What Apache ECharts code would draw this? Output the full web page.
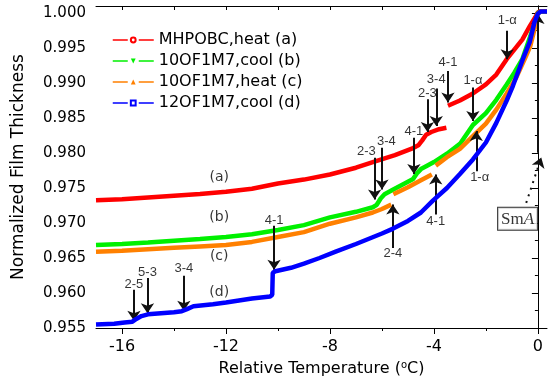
<!DOCTYPE html>
<html>
<head>
<meta charset="utf-8">
<script src="https://cdn.jsdelivr.net/npm/echarts@6/dist/echarts.min.js"></script>
<style>
  html, body { margin: 0; padding: 0; background: #fff; }
  #chart { width: 548px; height: 384px; }
</style>
</head>
<body>
<div id="chart"></div>
<script>
// --- data (null = gap in the curve) ---
const tempA = [-17, -16, -15, -14, -13, -12, -11, -10, -9, -8, -7, -6.35, -5.5, -4.8, -4.6, -4.45, -4.3, -4.1, -3.8, -3.52, -3.49, -3.46, -3.0, -2.5, -2.0, -1.6, -1.2, -0.9, -0.6, -0.3, -0.1, 0, 0.1, 0.35];
const thickA = [0.97325, 0.9734, 0.97365, 0.9739, 0.97415, 0.97445, 0.9749, 0.97565, 0.9762, 0.97693, 0.9779, 0.9787, 0.9797, 0.9807, 0.9811, 0.9818, 0.9826, 0.9830, 0.9834, 0.9836, null, 0.98675, 0.9875, 0.9885, 0.9898, 0.9912, 0.9934, 0.9948, 0.9962, 0.9982, 0.9994, 1.0001, 1.00025, 1.00025];

const tempB = [-17, -16, -15, -14, -13, -12, -11, -10, -9, -8, -7, -6.35, -6.2, -6.05, -5.9, -5.6, -5.0, -4.8, -4.65, -4.5, -4.3, -4.0, -3.5, -3.0, -2.5, -2.0, -1.6, -1.2, -0.9, -0.6, -0.3, -0.1, 0, 0.1, 0.35];
const thickB = [0.96685, 0.967, 0.9672, 0.96745, 0.9677, 0.968, 0.9684, 0.969, 0.9697, 0.9708, 0.9716, 0.97225, 0.9726, 0.9735, 0.9741, 0.9747, 0.9759, 0.9763, 0.9771, 0.9777, 0.9781, 0.9787, 0.9799, 0.9813, 0.9840, 0.9857, 0.9876, 0.9898, 0.9915, 0.9934, 0.9966, 0.9988, 1.0000, 1.0002, 1.0002];

const tempC = [-17, -16, -15, -14, -13, -12, -11, -10, -9, -8, -7, -6.35, -6.0, -5.64, -5.6, -5.56, -5.0, -4.5, -4.08, -4.0, -3.93, -3.5, -3.0, -2.5, -2.0, -1.6, -1.2, -0.83, -0.5, -0.3, -0.13, 0, 0.1, 0.35];
const thickC = [0.9659, 0.96605, 0.96625, 0.96645, 0.96665, 0.96685, 0.9673, 0.968, 0.9687, 0.9699, 0.9708, 0.9715, 0.972, 0.97263, null, 0.9741, 0.9751, 0.9761, 0.97693, null, 0.9782, 0.9794, 0.9806, 0.9824, 0.9842, 0.9862, 0.9885, 0.9908, 0.9935, 0.9952, 0.9977, 0.9999, 1.00025, 1.00025];

const tempD = [-17, -16.3, -15.9, -15.6, -15.45, -15.25, -15.0, -14.5, -14.0, -13.7, -13.5, -13.25, -12.5, -12.0, -11.0, -10.3, -10.22, -10.2, -10.1, -9.5, -9.0, -8.4, -7.78, -7.0, -6.0, -5.57, -5.0, -4.5, -4.04, -3.5, -3.0, -2.5, -2.0, -1.6, -1.2, -0.96, -0.58, -0.32, -0.13, 0, 0.1, 0.35];
const thickD = [0.9555, 0.9556, 0.9558, 0.9559, 0.9563, 0.9567, 0.95695, 0.9571, 0.95725, 0.9574, 0.9577, 0.9581, 0.9584, 0.95865, 0.9592, 0.9595, 0.95975, 0.9629, 0.9631, 0.9636, 0.9642, 0.965, 0.9659, 0.967, 0.9685, 0.9692, 0.9703, 0.9715, 0.9732, 0.9750, 0.9770, 0.97908, 0.9815, 0.9843, 0.9875, 0.9896, 0.9934, 0.9958, 0.9987, 0.9999, 1.0002, 1.0002];

const seriesNames = ['MHPOBC,heat (a)', '10OF1M7,cool (b)', '10OF1M7,heat (c)', '12OF1M7,cool (d)'];

// tick labels
const xTicks = [-16, -12, -8, -4, 0];
const xMinorTicks = [-14, -10, -6, -2];
const xTopTicks = [-16, -14, -12, -10, -8, -6, -4, -2, 0];
const yTicks = [0.955, 0.960, 0.965, 0.970, 0.975, 0.980, 0.985, 0.990, 0.995, 1.000];
const yMinorTicks = [0.9575, 0.9625, 0.9675, 0.9725, 0.9775, 0.9825, 0.9875, 0.9925, 0.9975];

// transition arrows: temperature, start and end thickness, text and text position
const arrowText  = ['2-5', '5-3', '3-4', '4-1', '2-3', '3-4', '4-1', '2-3', '3-4', '4-1', '1-α', '1-α', '2-4', '4-1', '1-α'];
const arrowTemp  = [-15.54, -15.02, -13.62, -10.15, -6.28, -6.0, -4.77, -4.25, -3.91, -3.46, -2.5, -1.18, -5.58, -3.93, -2.37];
const arrowStart = [0.96045, 0.96213, 0.96245, 0.96962, 0.97932, 0.98075, 0.98219, 0.98768, 0.98921, 0.99173, 0.98935, 0.99747, 0.96643, 0.9712, 0.9774];
const arrowEnd   = [0.95605, 0.95711, 0.95748, 0.96332, 0.97335, 0.97478, 0.9770, 0.98299, 0.98385, 0.98720, 0.98457, 0.99341, 0.97263, 0.97693, 0.98314];
const textTemp   = [-15.54, -15.02, -13.62, -10.15, -6.6, -5.83, -4.77, -4.25, -3.91, -3.46, -2.5, -1.18, -5.58, -3.93, -2.24];
const textThick  = [0.96127, 0.96298, 0.96346, 0.97034, 0.98027, 0.98166, 0.98309, 0.98849, 0.99054, 0.99293, 0.9904, 0.9990, 0.96571, 0.97029, 0.97646];

// curve tags
const tagText  = ['(a)', '(b)', '(c)', '(d)'];
const tagTemp  = [-12.26, -12.26, -12.26, -12.26];
const tagThick = [0.97646, 0.97087, 0.96522, 0.96006];

// SmA phase arrow and box
const smaArrow = [[0, 0.98005], [0, 0.99985]];
const smaDotted = [[-0.45, 0.97287], [0.13, 0.97936]];
const smaBox = [-0.78, 0.97062];

const pairs = (xs, ys) => xs.map((x, i) => [x, ys[i] === null ? '-' : ys[i]]);

const AXIS_FONT = "'DejaVu Sans', sans-serif";
const NOTE_FONT = "'Liberation Sans', Arial, sans-serif";
const colors = ['#ff0000', '#00f000', '#ff8000', '#0000ff'];
const symbols = ['emptyCircle', 'triangle', 'triangle', 'emptyRect'];
const rotations = [0, 180, 0, 0];
const curves = [pairs(tempA, thickA), pairs(tempB, thickB), pairs(tempC, thickC), pairs(tempD, thickD)];

const chart = echarts.init(document.getElementById('chart'), null, { renderer: 'canvas' });

const lineSeries = curves.map((data, i) => ({
    name: seriesNames[i],
    type: 'line',
    data: data,
    xAxisIndex: 0,
    yAxisIndex: 0,
    showSymbol: false,
    symbol: symbols[i],
    symbolRotate: rotations[i],
    connectNulls: false,
    color: colors[i],
    itemStyle: { color: colors[i], borderWidth: 1 },
    lineStyle: { width: 4.5, color: colors[i] },
    emphasis: { disabled: true },
    z: 2 + i
}));

const arrowLines = arrowTemp.map((t, i) => [{ coord: [t, arrowStart[i]] }, { coord: [t, arrowEnd[i]] }]);
arrowLines.push([{ coord: smaArrow[0] }, { coord: smaArrow[1] }]);
arrowLines.push([
    { coord: smaDotted[0], lineStyle: { type: [2, 5], width: 2 } },
    { coord: smaDotted[1] }
]);

const labelData = arrowText.map((s, i) => ({ name: s, value: [textTemp[i], textThick[i]] }))
    .concat(tagText.map((s, i) => ({
        name: s,
        value: [tagTemp[i], tagThick[i]],
        label: { fontFamily: AXIS_FONT, fontSize: 14 }
    })))
    .concat([{
        name: 'SmA',
        value: smaBox,
        label: {
            formatter: '{r|Sm}{i|A}',
            backgroundColor: '#fff',
            borderColor: '#000',
            borderWidth: 1,
            padding: [3, 3, 2, 3],
            rich: {
                r: { fontFamily: "'Liberation Serif', serif", fontSize: 17, color: '#000' },
                i: { fontFamily: "'Liberation Serif', serif", fontSize: 17, fontStyle: 'italic', color: '#000' }
            }
        }
    }]);

const noteSeries = {
    name: 'notes',
    type: 'scatter',
    xAxisIndex: 0,
    yAxisIndex: 0,
    symbolSize: 1,
    itemStyle: { color: 'rgba(0,0,0,0)' },
    silent: true,
    z: 10,
    label: {
        show: true,
        position: 'inside',
        formatter: '{b}',
        color: '#000',
        fontFamily: NOTE_FONT,
        fontSize: 13
    },
    data: labelData,
    markLine: {
        silent: true,
        symbol: ['none', 'arrow'],
        symbolSize: 10,
        precision: 6,
        label: { show: false },
        emphasis: { disabled: true },
        lineStyle: { color: '#111', width: 2, type: 'solid' },
        data: arrowLines
    }
};

const axisLine = { show: true, lineStyle: { color: '#000', width: 1 } };

chart.setOption({
    animation: false,
    backgroundColor: '#fff',
    grid: { left: 96, right: 1, top: 6, bottom: 56, containLabel: false },
    legend: {
        data: seriesNames,
        orient: 'vertical',
        left: 107,
        top: 27,
        itemWidth: 41,
        itemHeight: 6,
        itemGap: 5,
        lineStyle: { width: 1.5, type: [15, 11] },
        textStyle: { fontFamily: AXIS_FONT, fontSize: 16, color: '#000' },
        selectedMode: false
    },
    xAxis: [
        {
            type: 'value', min: -17, max: 0.35, position: 'bottom',
            name: 'Relative Temperature ({sup|o}C)',
            nameLocation: 'middle', nameGap: 32,
            nameTextStyle: {
                fontFamily: AXIS_FONT, fontSize: 16, color: '#000',
                rich: { sup: { fontFamily: AXIS_FONT, fontSize: 10, color: '#000', padding: [0, 0, 8, 0] } }
            },
            axisLine: axisLine,
            axisTick: { show: true, inside: false, length: 6, customValues: xTicks, lineStyle: { color: '#000' } },
            axisLabel: { show: true, customValues: xTicks, margin: 11, fontFamily: AXIS_FONT, fontSize: 16, color: '#000' },
            splitLine: { show: false }
        },
        {
            type: 'value', min: -17, max: 0.35, position: 'bottom',
            axisLine: { show: false },
            axisTick: { show: true, inside: false, length: 3, customValues: xMinorTicks, lineStyle: { color: '#000' } },
            axisLabel: { show: false },
            splitLine: { show: false }
        },
        {
            type: 'value', min: -17, max: 0.35, position: 'top',
            axisLine: axisLine,
            axisTick: { show: true, inside: true, length: 4, customValues: xTopTicks, lineStyle: { color: '#000' } },
            axisLabel: { show: false },
            splitLine: { show: false }
        }
    ],
    yAxis: [
        {
            type: 'value', min: 0.955, max: 1.001, position: 'left',
            name: 'Normalized Film Thickness',
            nameLocation: 'middle', nameGap: 69,
            nameTextStyle: { fontFamily: AXIS_FONT, fontSize: 17, color: '#000' },
            axisLine: axisLine,
            axisTick: { show: true, inside: false, length: 6, customValues: yTicks, lineStyle: { color: '#000' } },
            axisLabel: {
                show: true, customValues: yTicks, margin: 10,
                fontFamily: AXIS_FONT, fontSize: 15, color: '#000',
                formatter: v => v.toFixed(3)
            },
            splitLine: { show: false }
        },
        {
            type: 'value', min: 0.955, max: 1.001, position: 'left',
            axisLine: { show: false },
            axisTick: { show: true, inside: false, length: 3, customValues: yMinorTicks, lineStyle: { color: '#000' } },
            axisLabel: { show: false },
            splitLine: { show: false }
        },
        {
            type: 'value', min: 0.955, max: 1.001, position: 'right',
            axisLine: axisLine,
            axisTick: { show: true, inside: true, length: 4, customValues: yTicks, lineStyle: { color: '#000' } },
            axisLabel: { show: false },
            splitLine: { show: false }
        }
    ],
    series: lineSeries.concat([noteSeries])
});
</script>
</body>
</html>
